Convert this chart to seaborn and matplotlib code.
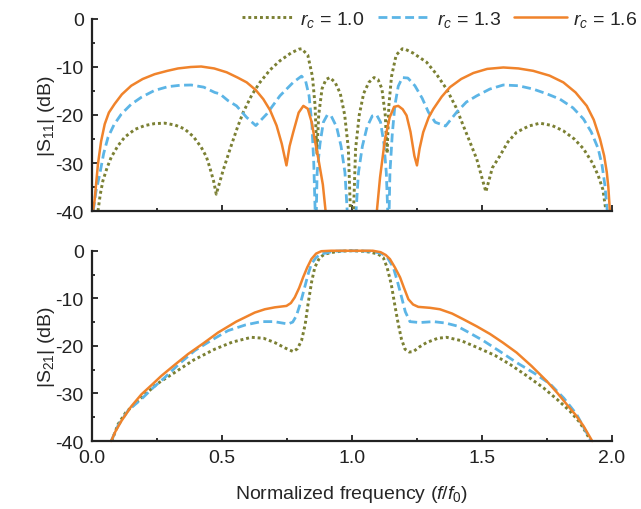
import numpy as np
import pandas as pd
import matplotlib
matplotlib.use("Agg")
import matplotlib.pyplot as plt
from matplotlib.ticker import MultipleLocator
import seaborn as sns

# |S11| curves (top panel); nulls dip below the -40 dB floor
s11_x_10 = [0.023, 0.032, 0.042, 0.058, 0.074, 0.1, 0.126, 0.165, 0.203, 0.24, 0.28, 0.32, 0.356, 0.39, 0.42,
            0.44, 0.453, 0.468, 0.478, 0.504, 0.531, 0.56, 0.582, 0.615, 0.646, 0.685, 0.723, 0.765, 0.795, 0.806,
            0.83, 0.848, 0.858, 0.865, 0.872, 0.885, 0.9, 0.915, 0.935, 0.955, 0.972, 0.986, 0.997,
            1.003, 1.014, 1.028, 1.045, 1.065, 1.085, 1.1, 1.115, 1.128, 1.135, 1.142, 1.152, 1.17, 1.194,
            1.205, 1.235, 1.287, 1.325, 1.364, 1.4, 1.428, 1.455, 1.48, 1.515, 1.54, 1.569, 1.6, 1.633, 1.68,
            1.723, 1.77, 1.813, 1.855, 1.89, 1.925, 1.947, 1.965, 1.977]
s11_y_10 = [-40, -36.5, -33.7, -31, -28.8, -26.4, -24.6, -23, -22.2, -21.8, -21.7, -22.1, -22.9, -24.5, -26.7,
            -28.7, -30.9, -33.8, -36.5, -31.6, -27.1, -22.5, -19.4, -15.8, -13.2, -10.6, -8.7, -7.1, -6.3, -6.2,
            -7.5, -12, -18, -28, -20, -14.5, -12.6, -12.2, -13.2, -15.5, -20, -27, -45,
            -45, -27, -20, -15.5, -13.2, -12.2, -12.6, -14.5, -20, -28, -18, -12, -7.5, -6.2,
            -6.3, -7.1, -9, -11.5, -14.6, -18.4, -22.2, -25.8, -29.2, -36, -31, -28.5, -25.6, -23.6, -22.3,
            -21.7, -22.2, -23.3, -25, -27, -30, -32.6, -35.5, -40]

s11_x_13 = [0.005, 0.015, 0.03, 0.045, 0.062, 0.085, 0.113, 0.15, 0.19, 0.24, 0.292, 0.34, 0.382, 0.43, 0.472,
            0.492, 0.523, 0.556, 0.595, 0.63, 0.672, 0.723, 0.774, 0.806, 0.822, 0.835, 0.846, 0.853, 0.861,
            0.866, 0.877, 0.89, 0.905, 0.92, 0.941, 0.958, 0.973, 0.987,
            1.01, 1.025, 1.04, 1.058, 1.078, 1.095, 1.11, 1.123, 1.132, 1.141,
            1.146, 1.155, 1.165, 1.178, 1.194, 1.215, 1.242, 1.27, 1.294, 1.32, 1.36, 1.403, 1.44, 1.48,
            1.53, 1.582, 1.64, 1.697, 1.75, 1.8, 1.85, 1.89, 1.92, 1.947, 1.962, 1.973, 1.982]
s11_y_13 = [-40, -36, -32.3, -28, -24.6, -22, -19.8, -17.8, -16.3, -14.9, -14.1, -13.8, -13.75, -14.2, -15.3,
            -15.6, -17, -18.1, -20.5, -22.2, -19.8, -16, -13.2, -11.9, -13, -16, -22, -30, -45,
            -32, -26, -21.5, -20, -20.2, -22.5, -26.5, -32, -45,
            -45, -32, -26.5, -22.5, -20.2, -20, -21.5, -26, -32, -45,
            -32, -24, -18, -14, -12.2, -12.3, -13.9, -16.5, -19.4, -21.5, -22.3, -19.4, -17.3, -16,
            -14.6, -13.75, -13.9, -14.6, -15.6, -16.7, -18.5, -20.8, -23.5, -27, -30.5, -34.7, -40]

s11_x_16 = [0.004, 0.01, 0.023, 0.035, 0.049, 0.065, 0.087, 0.115, 0.151, 0.195, 0.241, 0.29, 0.331, 0.38, 0.42,
            0.47, 0.518, 0.56, 0.595, 0.63, 0.659, 0.685, 0.71, 0.73, 0.748, 0.76, 0.774, 0.795, 0.813, 0.83,
            0.845, 0.858, 0.871, 0.888, 0.908,
            1.087, 1.108, 1.127, 1.145, 1.162, 1.178, 1.195, 1.21, 1.225, 1.24, 1.25, 1.26, 1.274, 1.295, 1.313,
            1.345, 1.377, 1.42, 1.467, 1.52, 1.582, 1.64, 1.697, 1.76, 1.813, 1.86, 1.903, 1.93, 1.954, 1.97,
            1.98, 1.986, 1.992]
s11_y_16 = [-40, -37.8, -30.2, -25.5, -21.9, -19.5, -17.7, -15.7, -13.9, -12.5, -11.5, -10.8, -10.3, -10, -9.9,
            -10.3, -11.1, -12.2, -13.2, -14.8, -16.7, -19, -22.2, -26, -30.5, -26.5, -23.6, -19.5, -18.1, -18.7,
            -21.5, -25.5, -29.2, -34.5, -45,
            -45, -33, -25, -20.5, -18.3, -18.1, -18.8, -20.1, -23.5, -28.5, -30.5, -27, -23.6, -20.5, -18.75,
            -16.2, -14.2, -12.5, -11.25, -10.4, -10.1, -10.3, -10.8, -11.8, -13.2, -15.3, -18.1, -21, -25, -28.5,
            -31.9, -35, -40]

# |S21| curves (bottom panel)
s21_x_10 = [0.076, 0.1, 0.13, 0.19, 0.25, 0.318, 0.39, 0.472, 0.54, 0.613, 0.66, 0.703, 0.745, 0.774, 0.79,
            0.806, 0.82, 0.831, 0.845, 0.857, 0.875, 0.895, 0.93, 0.959, 1.0, 1.04, 1.07, 1.1, 1.12, 1.135,
            1.151, 1.165, 1.178, 1.19, 1.204, 1.22, 1.236, 1.26, 1.287, 1.33, 1.364, 1.42, 1.48, 1.55, 1.608,
            1.67, 1.736, 1.79, 1.838, 1.875, 1.9, 1.918]
s21_y_10 = [-40, -36.5, -34, -30.9, -28, -25.6, -23, -20.7, -19.2, -18.2, -18.4, -19.3, -20.5, -21.2, -20.6,
            -18.9, -15.5, -11.2, -6.5, -3.5, -1.5, -0.7, -0.3, -0.1, 0, -0.1, -0.3, -0.7, -1.4, -3.5,
            -7, -11.5, -15.4, -18.5, -20.7, -21.3, -21.2, -20.2, -19.3, -18.4, -18.2, -18.9, -20.3, -22, -23.9,
            -26.2, -28.8, -31.3, -33.7, -36, -38.2, -40]

s21_x_13 = [0.074, 0.1, 0.14, 0.19, 0.235, 0.279, 0.335, 0.395, 0.46, 0.523, 0.59, 0.651, 0.7, 0.754, 0.772,
            0.786, 0.803, 0.818, 0.832, 0.844, 0.862, 0.882, 0.93, 1.0, 1.07, 1.1, 1.118, 1.138, 1.159, 1.175,
            1.191, 1.205, 1.223, 1.26, 1.313, 1.36, 1.403, 1.45, 1.505, 1.57, 1.633, 1.7, 1.762, 1.815, 1.864,
            1.895, 1.92]
s21_y_13 = [-40, -36.8, -33.5, -31.2, -28.8, -26.7, -23.8, -21, -18.8, -16.8, -15.6, -14.9, -14.9, -15.4, -15,
            -13.7, -10.8, -7.7, -4.8, -2.8, -1.4, -0.7, -0.1, 0, -0.1, -0.4, -0.7, -1.6, -3.5, -6.5,
            -9.8, -12.8, -14.9, -15.1, -14.9, -15.2, -15.8, -17.2, -18.9, -21.2, -23.5, -25.7, -28, -31, -34.4,
            -37.5, -40]

s21_x_16 = [0.074, 0.09, 0.113, 0.15, 0.19, 0.23, 0.267, 0.32, 0.37, 0.43, 0.485, 0.555, 0.626, 0.665, 0.703,
            0.748, 0.765, 0.78, 0.797, 0.812, 0.828, 0.844, 0.862, 0.882, 0.92, 1.0, 1.08, 1.11, 1.13, 1.146,
            1.165, 1.185, 1.2, 1.217, 1.235, 1.255, 1.3, 1.338, 1.385, 1.428, 1.48, 1.531, 1.58, 1.633, 1.69,
            1.749, 1.79, 1.826, 1.86, 1.89, 1.908, 1.924]
s21_y_16 = [-40, -38, -35.8, -32.8, -30.2, -28.2, -26.3, -23.9, -21.7, -19.4, -17.2, -14.9, -13, -12.3, -11.9,
            -11.6, -11, -9.8, -7.8, -5.6, -3.5, -1.75, -0.6, -0.1, 0, 0, 0, -0.3, -0.9, -1.75,
            -3.5, -5.6, -7.8, -10.2, -11.3, -11.8, -12, -12.3, -13.2, -14.4, -15.9, -17.5, -19.3, -21.4, -24.2,
            -27.4, -29.9, -32.3, -34.5, -36.8, -38.5, -40]

labels = [r"$r_c$ = 1.0", r"$r_c$ = 1.3", r"$r_c$ = 1.6"]
colors = ["#7b8033", "#5cb5e6", "#f0832b"]
styles = [(0, (1, 1)), (0, (3.2, 1.6)), "-"]
widths = [2.1, 2.0, 1.8]

sns.set_style("ticks")
plt.rcParams["font.family"] = ["Liberation Sans", "DejaVu Sans"]
plt.rcParams["mathtext.fontset"] = "custom"
plt.rcParams["mathtext.rm"] = "Liberation Sans"
plt.rcParams["mathtext.it"] = "Liberation Sans:italic"
plt.rcParams["axes.unicode_minus"] = False

fig = plt.figure(figsize=(6.41, 5.10), dpi=100)
ax1 = fig.add_axes([0.1435, 0.5843, 0.8112, 0.3765])
ax2 = fig.add_axes([0.1435, 0.1333, 0.8112, 0.3731])

top = [(s11_x_10, s11_y_10), (s11_x_13, s11_y_13), (s11_x_16, s11_y_16)]
bot = [(s21_x_10, s21_y_10), (s21_x_13, s21_y_13), (s21_x_16, s21_y_16)]

for i in range(3):
    df = pd.DataFrame({"f": top[i][0], "db": top[i][1]})
    sns.lineplot(data=df, x="f", y="db", ax=ax1, color=colors[i], linestyle=styles[i],
                 linewidth=widths[i], estimator=None, sort=False, label=labels[i])
    df = pd.DataFrame({"f": bot[i][0], "db": bot[i][1]})
    # no clipping here so the flat 0 dB passband is drawn in full
    sns.lineplot(data=df, x="f", y="db", ax=ax2, color=colors[i], linestyle=styles[i],
                 linewidth=widths[i], estimator=None, sort=False, clip_on=False)

for ax in (ax1, ax2):
    ax.set_xlim(0, 2)
    ax.set_ylim(-40, 0)
    ax.xaxis.set_major_locator(MultipleLocator(0.5))
    ax.xaxis.set_minor_locator(MultipleLocator(0.25))
    ax.yaxis.set_major_locator(MultipleLocator(10))
    ax.yaxis.set_minor_locator(MultipleLocator(5))
    ax.tick_params(which="both", direction="in", width=1.3, colors="#222222", labelsize=14, pad=6)
    ax.tick_params(which="major", length=4.5)
    ax.tick_params(which="minor", length=2.5)
    sns.despine(ax=ax)
    for sp in ("left", "bottom"):
        ax.spines[sp].set_linewidth(1.6)
        ax.spines[sp].set_color("#222222")
        ax.spines[sp].set_zorder(3)
    ax.set_xlabel("")

ax1.tick_params(labelbottom=False)
ax2.xaxis.set_major_formatter(matplotlib.ticker.FormatStrFormatter("%.1f"))

ax1.set_ylabel(r"|S$_{11}$| (dB)", fontsize=14)
ax2.set_ylabel(r"|S$_{21}$| (dB)", fontsize=14)
ax1.yaxis.set_label_coords(-0.068, 0.5)
ax2.yaxis.set_label_coords(-0.068, 0.5)
ax2.set_xlabel(r"Normalized frequency ($f$/$f_0$)", fontsize=14, labelpad=12)

ax1.get_legend().remove()
h, l = ax1.get_legend_handles_labels()
fig.legend(h, l, loc="center right", bbox_to_anchor=(1.0, 1 - 20 / 510), ncol=3, frameon=False,
           fontsize=14, handlelength=2.7, handletextpad=0.3, columnspacing=0.7, borderaxespad=0.1,
           borderpad=0.1)

fig.savefig("out.png", dpi=100)
